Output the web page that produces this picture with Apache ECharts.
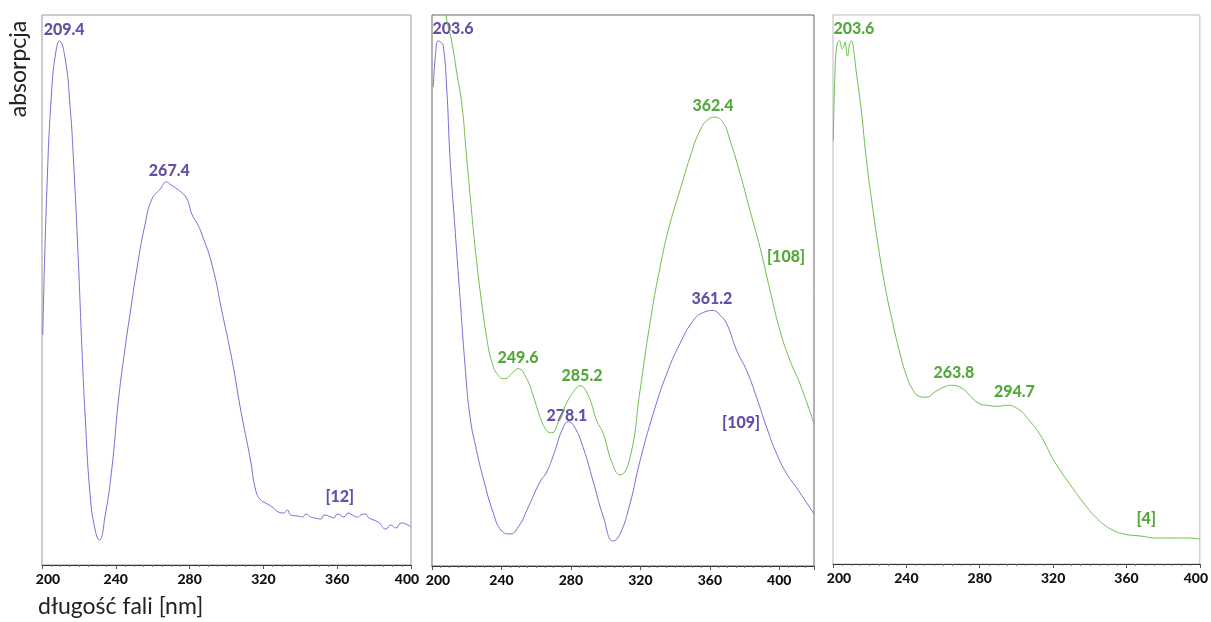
<!DOCTYPE html>
<html>
<head>
<meta charset="utf-8">
<script src="https://cdn.jsdelivr.net/npm/echarts@6/dist/echarts.min.js"></script>
<style>
  html, body { margin: 0; padding: 0; background: #fff; }
  #chart { width: 1211px; height: 622px; }
</style>
</head>
<body>
<div id="chart"></div>
<script>
// [nm, absorpcja], arbitrary units
const purple1 = [
  [200.4, 230], [202.6, 373], [205.3, 476], [207.6, 514], [209.4, 524], [212.5, 507],
  [215.2, 459], [217.0, 407], [219.7, 304], [221.6, 218], [223.4, 149], [226.1, 70],
  [228.8, 35], [231.1, 25], [234.2, 49], [237.9, 97], [241.5, 166], [245.1, 218],
  [247.8, 252], [251.5, 297], [256.0, 342], [259.6, 366], [264.1, 376], [267.4, 383],
  [270.0, 380], [273.2, 376], [276.0, 372], [278.6, 366], [281.4, 350], [284.0, 342],
  [286.8, 330], [292.2, 300], [297.7, 252], [303.1, 204], [307.6, 156], [313.0, 105],
  [315.8, 75], [318.5, 65], [321.2, 62], [325.5, 57], [328.0, 53], [331.0, 52],
  [333.0, 55], [334.8, 50], [338.6, 49], [341.3, 48], [343.0, 51], [345.7, 48],
  [348.0, 47], [351.1, 46], [353.0, 50], [356.5, 48], [358.0, 47], [360.3, 51],
  [363.6, 48], [366.0, 52], [369.0, 49], [371.0, 48], [372.8, 50], [375.0, 51],
  [377.2, 47], [382.1, 43], [386.4, 36], [389.1, 40], [391.8, 37], [394.6, 42],
  [397.3, 41], [400.0, 38]
]
const purple2 = [
  [200.8, 478], [202.0, 510], [203.6, 524], [205.0, 523], [206.5, 519], [208.5, 476],
  [210.4, 407], [213.2, 338], [216.1, 269], [219.0, 201], [221.9, 149], [225.7, 115],
  [229.6, 87], [235.3, 53], [240.1, 35], [244.9, 32], [249.7, 39], [255.5, 59],
  [262.2, 84], [266.1, 94], [270.8, 115], [275.0, 136], [278.5, 144], [282.0, 139],
  [287.1, 118], [292.9, 84], [298.7, 49], [304.4, 25], [308.3, 32], [314.0, 62],
  [319.8, 105], [327.4, 152], [335.2, 192], [342.8, 222], [350.5, 245], [356.2, 253],
  [362.0, 255], [366.0, 250], [369.7, 242], [375.5, 215], [381.2, 195], [387.0, 168],
  [392.8, 138], [398.5, 112], [404.3, 92], [410.0, 78], [415.8, 63], [420.0, 52]
]
const green2 = [
  [206.0, 600], [208.1, 550], [211.3, 524], [214.2, 493], [217.1, 462], [220.0, 407],
  [222.9, 352], [225.7, 304], [228.6, 263], [231.5, 228], [234.4, 204], [238.2, 190],
  [242.0, 187], [245.9, 192], [249.6, 197], [254.5, 187], [258.3, 170], [262.2, 149],
  [266.1, 135], [268.9, 133], [272.8, 144], [277.6, 163], [282.4, 176], [285.2, 180],
  [290.0, 170], [294.9, 145], [298.7, 132], [303.5, 104], [308.3, 91], [314.0, 108],
  [319.8, 175], [325.5, 242], [331.3, 298], [337.1, 342], [342.8, 375], [348.6, 408],
  [354.4, 435], [359.2, 446], [362.8, 448], [367.8, 442], [371.6, 425], [377.4, 392],
  [383.1, 355], [388.9, 318], [394.7, 275], [400.4, 235], [406.2, 205], [411.9, 182],
  [420.0, 142]
]
const green3 = [
  [200.2, 424], [201.1, 493], [202.3, 521], [203.6, 524], [205.0, 516], [205.8, 518],
  [206.5, 523], [207.9, 509], [209.1, 521], [210.0, 524], [210.8, 521], [212.7, 493],
  [215.4, 455], [218.1, 407], [221.7, 356], [225.3, 311], [228.9, 273], [232.5, 242],
  [236.1, 214], [239.8, 190], [243.4, 175], [247.0, 168], [250.6, 167], [256.1, 173],
  [261.5, 178], [264.5, 179], [270.4, 176], [275.0, 168], [279.5, 161], [284.0, 159],
  [290.3, 158], [294.7, 159], [301.1, 155], [306.5, 145], [313.7, 127], [319.1, 108],
  [322.7, 97], [329.9, 78], [337.1, 60], [344.3, 45], [351.5, 35], [358.8, 30],
  [367.7, 28], [376.8, 26], [385.8, 26], [393.0, 26], [400.0, 25]
]

// [nm, absorpcja, text] anchors for the peak notes
const labels1 = [[212, 535, '209.4'], [269, 394, '267.4'], [361.4, 68, '[12]']]
const labels2Purple = [[212.1, 536, '203.6'], [277.7, 150, '278.1'], [361.2, 267, '361.2'], [378, 143, '[109]']]
const labels2Green = [[361.8, 459, '362.4'], [403.9, 309, '[108]'], [249.5, 208, '249.6'], [286.4, 190, '285.2']]
const labels3 = [[211.4, 536, '203.6'], [265.9, 192, '263.8'], [298.9, 172, '294.7'], [370.8, 45, '[4]']]

const xMax = [400, 420, 400]

const purpleLine = '#7a6dd6'
const purpleText = '#3d2390'
const greenLine = '#6fbf4c'
const greenText = '#2b930b'
const font = 'Lato, "Open Sans", sans-serif'

const xAxis = (i) => ({
  type: 'value',
  gridIndex: i,
  min: 200,
  max: xMax[i],
  interval: 40,
  axisLine: { show: true, onZero: false, lineStyle: { color: '#333', width: 1 } },
  axisTick: { show: true, length: 4, lineStyle: { color: '#555' } },
  minorTick: { show: true, splitNumber: 8, length: 2, lineStyle: { color: '#777' } },
  splitLine: { show: false },
  axisLabel: {
    color: '#111',
    fontFamily: font,
    fontWeight: 900,
    fontSize: 14,
    margin: 7,
    showMaxLabel: xMax[i] === 400,
    formatter: (v) => v === 200 ? '{first|' + v + '}' : (v === 400 && xMax[i] === 400 ? '{last|' + v + '}' : '' + v),
    rich: {
      first: { padding: [0, 0, 0, 12], fontWeight: 900, fontSize: 14, fontFamily: font, color: '#111' },
      last: { padding: [0, 8, 0, 0], fontWeight: 900, fontSize: 14, fontFamily: font, color: '#111' }
    }
  }
})

const yAxis = (i) => ({
  type: 'value',
  gridIndex: i,
  min: 0,
  max: 550,
  axisLine: { show: false },
  axisTick: { show: false },
  axisLabel: { show: false },
  splitLine: { show: false }
})

const lineSeries = (i, data, color) => ({
  type: 'line',
  xAxisIndex: i,
  yAxisIndex: i,
  data,
  smooth: 0.5,
  showSymbol: false,
  clip: true,
  lineStyle: { color, width: 1 }
})

const labelSeries = (i, data, color) => ({
  type: 'scatter',
  xAxisIndex: i,
  yAxisIndex: i,
  data,
  symbolSize: 1,
  itemStyle: { color: 'rgba(0,0,0,0)' },
  label: {
    show: true,
    position: 'inside',
    formatter: (p) => p.value[2],
    color,
    fontFamily: font,
    fontWeight: 900,
    fontSize: 16
  }
})

const chart = echarts.init(document.getElementById('chart'))
chart.setOption({
  animation: false,
  backgroundColor: '#fff',
  grid: [
    { left: 42, right: 800, top: 15, bottom: 57, show: true, borderColor: '#999', borderWidth: 1 },
    { left: 432, right: 397, top: 15, bottom: 56, show: true, borderColor: '#666', borderWidth: 1 },
    { left: 833, right: 7, top: 15, bottom: 58, show: true, borderColor: '#bbb', borderWidth: 1 }
  ],
  xAxis: [xAxis(0), xAxis(1), xAxis(2)],
  yAxis: [yAxis(0), yAxis(1), yAxis(2)],
  series: [
    lineSeries(0, purple1, purpleLine),
    lineSeries(1, green2, greenLine),
    lineSeries(1, purple2, purpleLine),
    lineSeries(2, green3, greenLine),
    labelSeries(0, labels1, purpleText),
    labelSeries(1, labels2Purple, purpleText),
    labelSeries(1, labels2Green, greenText),
    labelSeries(2, labels3, greenText)
  ],
  graphic: [
    {
      type: 'text',
      x: 19,
      y: 69,
      rotation: Math.PI / 2,
      style: { text: 'absorpcja', font: '23px ' + font, fill: '#222', align: 'center', verticalAlign: 'middle' }
    },
    {
      type: 'text',
      x: 38,
      y: 607,
      style: { text: 'długość fali [nm]', font: '23px ' + font, fill: '#222', align: 'left', verticalAlign: 'middle' }
    }
  ]
})
</script>
</body>
</html>
